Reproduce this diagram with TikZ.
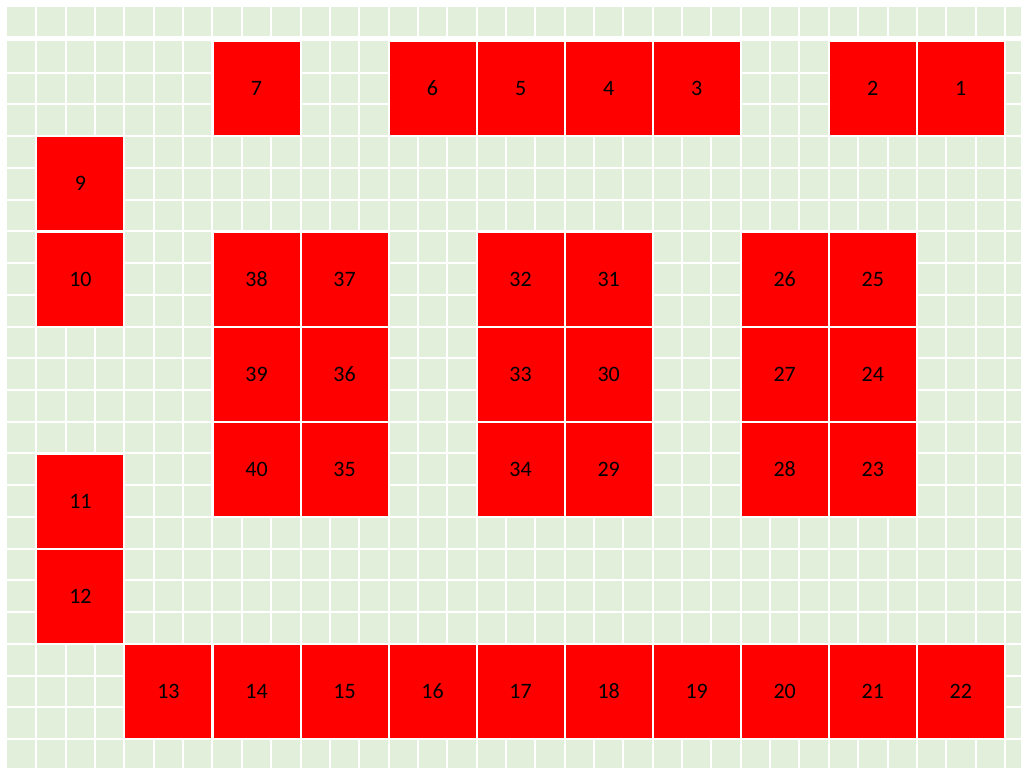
\documentclass[tikz,border=0pt]{standalone}
\usepackage{fontspec}
\setmainfont{Carlito}
\definecolor{cellgreen}{RGB}{226,239,218}
\begin{document}
\begin{tikzpicture}[x=1pt, y=-1pt,
    gridline/.style={white, line width=2pt},
    block/.style={rectangle, fill=red, draw=white, line width=2pt, minimum width=88pt, minimum height=95pt, inner sep=0pt, text height=14pt, text depth=0pt, font=\fontsize{22}{22}\selectfont}]
    \useasboundingbox (0,0) rectangle (1021,768);

    % Background grid
    \fill[cellgreen] (7,7) rectangle (1021,36);
    \fill[cellgreen] (7,41) rectangle (1021,768);
    \foreach \i in {1,...,34}
      \draw[gridline] ({7+29.35*\i},7) -- ({7+29.35*\i},768);
    \foreach \j in {1,...,22}
      \draw[gridline] (7,{41+31.73*\j}) -- (1021,{41+31.73*\j});

    % Top row of blocks
    \node[block] (b7) at (256.5, 88.6) {7};
    \node[block] (b6) at (432.5, 88.6) {6};
    \node[block] (b5) at (520.6, 88.6) {5};
    \node[block] (b4) at (608.7, 88.6) {4};
    \node[block] (b3) at (696.7, 88.6) {3};
    \node[block] (b2) at (872.8, 88.6) {2};
    \node[block] (b1) at (960.8, 88.6) {1};

    % Left column of blocks
    \node[block] (b9) at (80.4, 183.8) {9};
    \node[block] (b10) at (80.4, 279.0) {10};
    \node[block] (b11) at (80.4, 501.1) {11};
    \node[block] (b12) at (80.4, 596.3) {12};

    % Middle blocks, first row
    \node[block] (b38) at (256.5, 279.0) {38};
    \node[block] (b37) at (344.5, 279.0) {37};
    \node[block] (b32) at (520.6, 279.0) {32};
    \node[block] (b31) at (608.7, 279.0) {31};
    \node[block] (b26) at (784.7, 279.0) {26};
    \node[block] (b25) at (872.8, 279.0) {25};

    % Middle blocks, second row
    \node[block] (b39) at (256.5, 374.2) {39};
    \node[block] (b36) at (344.5, 374.2) {36};
    \node[block] (b33) at (520.6, 374.2) {33};
    \node[block] (b30) at (608.7, 374.2) {30};
    \node[block] (b27) at (784.7, 374.2) {27};
    \node[block] (b24) at (872.8, 374.2) {24};

    % Middle blocks, third row
    \node[block] (b40) at (256.5, 469.4) {40};
    \node[block] (b35) at (344.5, 469.4) {35};
    \node[block] (b34) at (520.6, 469.4) {34};
    \node[block] (b29) at (608.7, 469.4) {29};
    \node[block] (b28) at (784.7, 469.4) {28};
    \node[block] (b23) at (872.8, 469.4) {23};

    % Bottom row of blocks
    \node[block] (b13) at (168.4, 691.5) {13};
    \node[block] (b14) at (256.5, 691.5) {14};
    \node[block] (b15) at (344.5, 691.5) {15};
    \node[block] (b16) at (432.5, 691.5) {16};
    \node[block] (b17) at (520.6, 691.5) {17};
    \node[block] (b18) at (608.7, 691.5) {18};
    \node[block] (b19) at (696.7, 691.5) {19};
    \node[block] (b20) at (784.7, 691.5) {20};
    \node[block] (b21) at (872.8, 691.5) {21};
    \node[block] (b22) at (960.8, 691.5) {22};
  \end{tikzpicture}
\end{document}
